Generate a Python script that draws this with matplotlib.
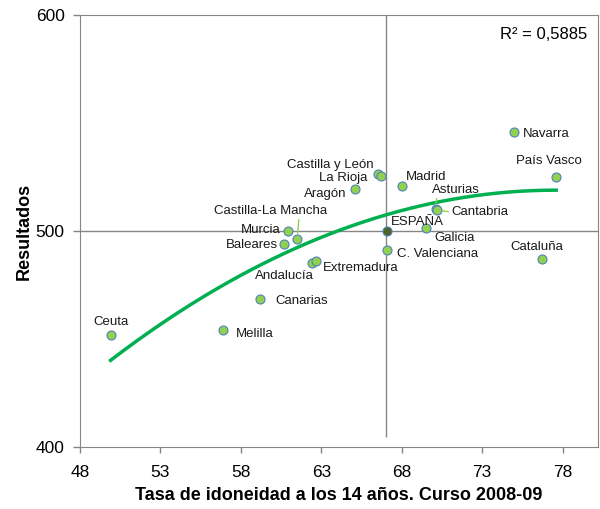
import numpy as np
import matplotlib
matplotlib.use("Agg")
import matplotlib.pyplot as plt

plt.rcParams['font.family'] = ['Liberation Sans', 'DejaVu Sans']

# Regions: tasa de idoneidad (x) vs resultados (y)
regions = ["Ceuta", "Melilla", "Canarias", "Andalucía", "Extremadura", "Baleares",
           "Castilla-La Mancha", "Murcia", "Aragón", "Castilla y León", "La Rioja",
           "C. Valenciana", "Madrid", "Asturias", "Cantabria", "Galicia",
           "Navarra", "País Vasco", "Cataluña"]
tasa = [49.9, 56.9, 59.2, 62.4, 62.7, 60.7, 61.5, 60.9, 65.1, 66.5, 66.7,
        67.1, 68.0, 70.1, 70.2, 69.5, 75.0, 77.6, 76.7]
resultados = [451.9, 454.2, 468.5, 485.3, 486.1, 493.8, 496.4, 500.0, 519.4, 526.4, 525.3,
              491.2, 520.8, 510.3, 509.7, 501.5, 545.7, 524.9, 486.9]
espana_x = 67.1
espana_y = 500.1
r2_text = "R² = 0,5885"

# label offsets in pixels (dx, dy, ha) and optional leader relpos
label_pos = {
    "Ceuta": (0, 15, "center", None),
    "Melilla": (13, -2, "left", None),
    "Canarias": (15, 0, "left", None),
    "Andalucía": (2, -11, "right", None),
    "Extremadura": (6, -5, "left", None),
    "Baleares": (-6, 1, "right", None),
    "Castilla-La Mancha": (-27, 30, "center", (0.755, 0.0)),
    "Murcia": (-7, 3, "right", None),
    "Aragón": (-9, -3, "right", None),
    "Castilla y León": (-4, 11, "right", None),
    "La Rioja": (-13, 0, "right", None),
    "C. Valenciana": (10, -2, "left", None),
    "Madrid": (4, 11, "left", None),
    "Asturias": (20, 21, "center", (0.11, 0.0)),
    "Cantabria": (14, 0, "left", (0.0, 0.5)),
    "Galicia": (8, -8, "left", None),
    "Navarra": (9, 0, "left", None),
    "País Vasco": (-7, 18, "center", None),
    "Cataluña": (-5, 14, "center", None),
}

fig = plt.figure(figsize=(6.0, 5.09), dpi=100)
ax = fig.add_axes([0.1333, 0.1218, 0.8634, 0.8487])
ax.set_xlim(48, 80.2)
ax.set_ylim(400, 600)

grey = "#868686"
ax.axhline(500, color=grey, lw=1, zorder=1)
ax.vlines(espana_x - 0.1, 404.5, 600, color=grey, lw=1, zorder=1)

# quadratic trend line fitted on the regions
all_x = np.array(tasa + [espana_x])
all_y = np.array(resultados + [espana_y])
coef = np.polyfit(all_x, all_y, 2)
xs = np.linspace(min(tasa), max(tasa), 200)
ax.plot(xs, np.polyval(coef, xs), color="#00B050", lw=2.5, zorder=2)

ax.scatter(tasa, resultados, s=42, color="#92D050", edgecolor="#4F81BD", lw=0.8, zorder=3)
ax.scatter([espana_x], [espana_y], s=42, color="#4F6228", edgecolor="#4F81BD", lw=0.8, zorder=3)

for name, x, y in zip(regions + ["ESPAÑA"], tasa + [espana_x], resultados + [espana_y]):
    dx, dy, ha, rel = label_pos.get(name, (4, 11, "left", None))
    kw = {}
    if rel is not None:
        kw["arrowprops"] = dict(arrowstyle="-", color="#92D050", lw=1, shrinkA=0, shrinkB=4, relpos=rel)
    ax.annotate(name, (x, y), xytext=(dx, dy - 2), textcoords="offset pixels",
                ha=ha, va="center", fontsize=9.5, color="#1a1a1a", zorder=4, **kw)

ax.text(0.98, 0.955, r2_text, transform=ax.transAxes, ha="right", va="center", fontsize=12)

ax.set_xticks([48, 53, 58, 63, 68, 73, 78])
ax.set_yticks([400, 500, 600])
ax.tick_params(axis="y", colors=grey, labelcolor="black", labelsize=12.5, length=5, width=1, pad=6)
ax.tick_params(axis="x", colors=grey, labelcolor="black", labelsize=12.5, length=4, width=1, pad=9)
for sp in ax.spines.values():
    sp.set_color(grey)
ax.set_xlabel("Tasa de idoneidad a los 14 años. Curso 2008-09", fontsize=13, fontweight="bold", labelpad=5)
ax.set_ylabel("Resultados", fontsize=13, fontweight="bold", labelpad=2)

fig.savefig("out.png", dpi=100)
